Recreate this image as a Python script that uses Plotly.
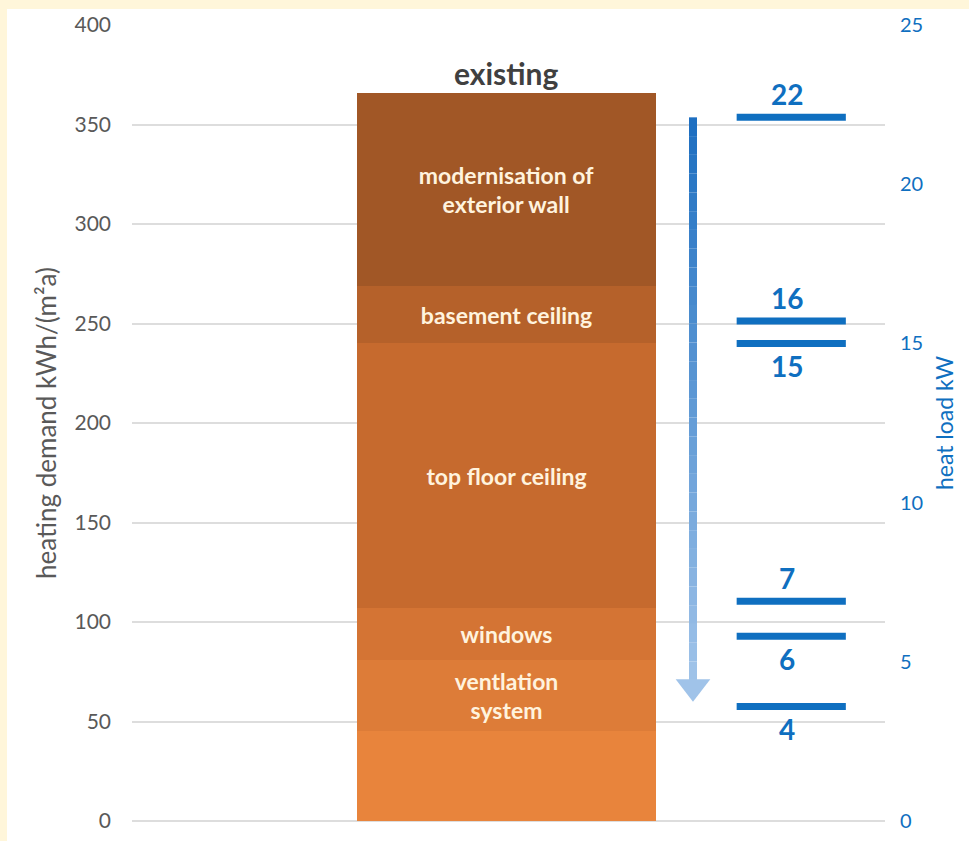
import plotly.graph_objects as go

# ---------------- data ----------------
SEGMENT_LABELS = ["", "ventlation<br>system", "windows", "top floor ceiling",
                  "basement ceiling", "modernisation of<br>exterior wall"]
SEGMENT_VALUES = [45, 36, 26, 133, 29, 97]          # kWh/(m²a), bottom -> top
SEGMENT_COLORS = ["#E8843C", "#DD7C38", "#D47434", "#C66A2E", "#B5612A", "#A15726"]
BAR_CATEGORY = "existing"

HEAT_LOAD = [22.1, 15.7, 15.0, 6.9, 5.8, 3.6]        # kW (right axis)
HEAT_LOAD_LABELS = ["22", "16", "15", "7", "6", "4"]
HEAT_LABEL_SIDE = ["above", "above", "below", "above", "below", "below"]

LEFT_TICKS = [0, 50, 100, 150, 200, 250, 300, 350, 400]
RIGHT_TICKS = [0, 5, 10, 15, 20, 25]

# ---------------- layout constants ----------------
FONT = "Lato, 'Open Sans', sans-serif"
GREY = "#595959"
BLUE = "#0F6FC0"
CREAM = "#FFF6DA"
BAR_X = 0.497
BAR_W = 0.397
LINE_X0, LINE_X1 = 0.803, 0.948
ARROW_X = 0.745

fig = go.Figure()

# stacked bar segments
for lab, val, col in zip(SEGMENT_LABELS, SEGMENT_VALUES, SEGMENT_COLORS):
    fig.add_trace(go.Bar(
        x=[BAR_X], y=[val], width=[BAR_W], marker=dict(color=col, line=dict(width=0)),
        text=[lab], textposition="inside", insidetextanchor="middle",
        textangle=0, constraintext="none",
        textfont=dict(family=FONT, size=23, color="#FFF3DE", weight="bold"),
        hoverinfo="skip", showlegend=False, yaxis="y"))

# gradient arrow shaft (on right axis)
arrow_top = HEAT_LOAD[0]
arrow_tip = HEAT_LOAD[-1] + 0.15
head_center = arrow_tip + 0.47
shaft_bottom = head_center + 0.2
n = 30
c0 = (28, 110, 192)
c1 = (160, 195, 233)
for i in range(n):
    t0 = i / n
    t1 = (i + 1) / n
    ya = arrow_top + (shaft_bottom - arrow_top) * t0
    yb = arrow_top + (shaft_bottom - arrow_top) * t1
    tm = (t0 + t1) / 2
    col = "rgb(%d,%d,%d)" % tuple(int(round(a + (b - a) * tm)) for a, b in zip(c0, c1))
    fig.add_trace(go.Scatter(x=[ARROW_X, ARROW_X], y=[ya, yb], mode="lines",
                             line=dict(color=col, width=8), yaxis="y2",
                             hoverinfo="skip", showlegend=False))
fig.add_trace(go.Scatter(x=[ARROW_X], y=[head_center], mode="markers",
                         marker=dict(symbol="triangle-down", size=30,
                                     color="rgb(160,195,233)", line=dict(width=0)),
                         yaxis="y2", hoverinfo="skip", showlegend=False))

# heat load level lines
for v, lab, side in zip(HEAT_LOAD, HEAT_LOAD_LABELS, HEAT_LABEL_SIDE):
    fig.add_trace(go.Scatter(x=[LINE_X0, LINE_X1], y=[v, v], mode="lines",
                             line=dict(color=BLUE, width=7), yaxis="y2",
                             hoverinfo="skip", showlegend=False))
    fig.add_annotation(x=(LINE_X0 + LINE_X1) / 2 - 0.005, y=v, xref="x", yref="y2",
                       text="<b>%s</b>" % lab, showarrow=False,
                       yanchor="bottom" if side == "above" else "top",
                       yshift=4 if side == "above" else -4,
                       font=dict(family=FONT, size=28, color=BLUE))

# category label above bar
fig.add_annotation(x=BAR_X, y=sum(SEGMENT_VALUES), xref="x", yref="y",
                   text="<b>%s</b>" % BAR_CATEGORY, showarrow=False,
                   yanchor="bottom", yshift=0,
                   font=dict(family=FONT, size=30, color="#404040"))

# cream page strips along the top and left edges
fig.add_shape(type="rect", xref="paper", yref="paper", x0=-0.3, x1=-0.166,
              y0=-0.2, y1=1.2, fillcolor=CREAM, line=dict(width=0), layer="below")
fig.add_shape(type="rect", xref="paper", yref="paper", x0=-0.3, x1=1.3,
              y0=1.0201, y1=1.2, fillcolor=CREAM, line=dict(width=0), layer="below")

fig.update_layout(
    width=969, height=841,
    margin=dict(l=132, r=84, t=25, b=20),
    paper_bgcolor="white", plot_bgcolor="rgba(0,0,0,0)",
    barmode="stack", bargap=0,
    xaxis=dict(range=[0, 1], visible=False, fixedrange=True),
    yaxis=dict(range=[0, 400], tickvals=LEFT_TICKS, showgrid=True,
               gridcolor="#DDDDDD", gridwidth=1.5, zeroline=True,
               zerolinecolor="#DDDDDD", zerolinewidth=1.5,
               showline=False, ticks="", ticklabelstandoff=20, automargin=False,
               tickfont=dict(family=FONT, size=21, color=GREY),
               title=dict(text="heating demand kWh/(m²a)", standoff=10,
                          font=dict(family=FONT, size=26, color=GREY))),
    yaxis2=dict(range=[0, 25], tickvals=RIGHT_TICKS, overlaying="y", side="right",
                showgrid=False, zeroline=False, showline=False, ticks="",
                ticklabelstandoff=14, automargin=False,
                tickfont=dict(family=FONT, size=20, color=BLUE),
                title=dict(text="heat load kW", standoff=14,
                           font=dict(family=FONT, size=23, color=BLUE))),
    showlegend=False,
)

fig.write_html("out.html", config={"displayModeBar": False},
               post_script="document.body.style.margin='0';"
                           "document.body.style.overflow='hidden';")
